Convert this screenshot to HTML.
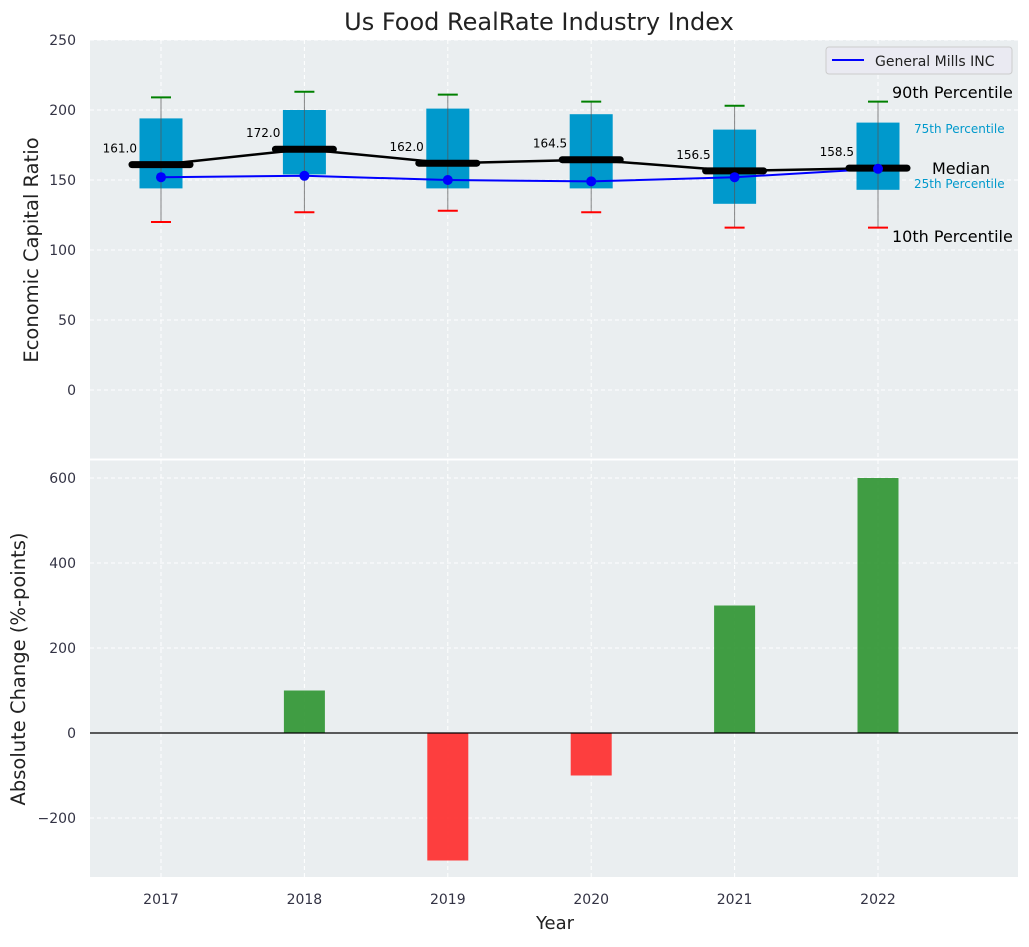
<!DOCTYPE html>
<html><head><meta charset="utf-8"><style>
body{margin:0;background:#fff;font-family:"Liberation Sans","DejaVu Sans",sans-serif}
svg text{font-family:"DejaVu Sans","Liberation Sans",sans-serif}
</style></head><body>
<svg id="chart" width="1029" height="942" viewBox="0 0 1029 942" xmlns="http://www.w3.org/2000/svg">
<rect width="1029" height="942" fill="#fff"/>
<text x="539" y="30" font-size="24" text-anchor="middle" fill="#222">Us Food RealRate Industry Index</text>
<rect x="90" y="40" width="928" height="419" fill="#eaeef0"/>
<rect x="90" y="460" width="928" height="417" fill="#eaeef0"/>
<g id="grid"></g><g id="marks"></g><g id="labels"></g>
<text transform="translate(38,250) rotate(-90)" font-size="19.5" text-anchor="middle" fill="#222">Economic Capital Ratio</text>
<text transform="translate(25,669) rotate(-90)" font-size="19.5" text-anchor="middle" fill="#222">Absolute Change (%-points)</text>
<text x="555" y="929" font-size="18" text-anchor="middle" fill="#222">Year</text>
<g>
<rect x="826" y="47" width="186" height="27" rx="3" fill="#eaeaf2" stroke="#ccc"/>
<line x1="832" y1="60" x2="864" y2="60" stroke="blue" stroke-width="2"/>
<text x="875" y="66" font-size="14" fill="#222">General Mills INC</text>
</g>
<text x="892" y="98" font-size="16" fill="#000">90th Percentile</text>
<text x="914" y="133" font-size="12" fill="#0099cc">75th Percentile</text>
<text x="932" y="174" font-size="16" fill="#000">Median</text>
<text x="914" y="188" font-size="12" fill="#0099cc">25th Percentile</text>
<text x="892" y="242" font-size="16" fill="#000">10th Percentile</text>
</svg>
<script>
const years=[2017,2018,2019,2020,2021,2022];
const p10=[120,127,128,127,116,116];
const q1=[144,154,144,144,133,143];
const median=[161,172,162,164.5,156.5,158.5];
const q3=[194,200,201,197,186,191];
const p90=[209,213,211,206,203,206];
const company=[152,153,150,149,152,158];
const change=[0,100,-300,-100,300,600];
const topTicks=[0,50,100,150,200,250];
const botTicks=[-200,0,200,400,600];

const NS='http://www.w3.org/2000/svg';
const X=v=>161+(v-2017)*143.4;
const YT=v=>390-v*1.4;
const YB=v=>733-v*0.425;
function mk(p,t,a){const e=document.createElementNS(NS,t);for(const k in a)e.setAttribute(k,a[k]);p.appendChild(e);return e;}
const grid=document.getElementById('grid'),marks=document.getElementById('marks'),labels=document.getElementById('labels');
topTicks.forEach(t=>{
 const l=mk(grid,'line',{x1:90,x2:1018,y1:YT(t),y2:YT(t),stroke:'#fff','stroke-dasharray':'4,3'});
 
 
 const tx=mk(labels,'text',{x:76,y:YT(t)+5,'font-size':14,'text-anchor':'end',fill:'#334'});tx.textContent=t;
 
 
});
botTicks.forEach(t=>{
 const l=mk(grid,'line',{x1:90,x2:1018,y1:YB(t),y2:YB(t),stroke:'#fff','stroke-dasharray':'4,3'});
 
 
 const tx=mk(labels,'text',{x:76,y:YB(t)+5,'font-size':14,'text-anchor':'end',fill:'#334'});tx.textContent=(t<0?'\u2212'+(-t):t);
 
 
});
years.forEach(y=>{
 [[40,459],[460,877]].forEach(r=>{mk(grid,'line',{x1:X(y),x2:X(y),y1:r[0],y2:r[1],stroke:'#fff','stroke-dasharray':'4,3'});});
 const tx=mk(labels,'text',{x:X(y),y:904,'font-size':14,'text-anchor':'middle',fill:'#334'});tx.textContent=y;
 
 
});
mk(grid,'line',{x1:90,x2:1018,y1:459.5,y2:459.5,stroke:'#fff','stroke-width':2});
years.forEach((y,i)=>{
 const x=X(y);
 const b=mk(marks,'rect',{x:x-21.5,y:YT(q3[i]),width:43,height:YT(q1[i])-YT(q3[i]),fill:'#0099cc'});
 
 
 mk(marks,'line',{x1:x,x2:x,y1:YT(p90[i]),y2:YT(p10[i]),stroke:'#555','stroke-width':1,opacity:0.7});
 const c1=mk(marks,'line',{x1:x-10,x2:x+10,y1:YT(p90[i]),y2:YT(p90[i]),stroke:'green','stroke-width':2});
 
 
 const c2=mk(marks,'line',{x1:x-10,x2:x+10,y1:YT(p10[i]),y2:YT(p10[i]),stroke:'red','stroke-width':2});
 
 
 const h=change[i];
 const bar=mk(marks,'rect',{x:x-20.5,y:Math.min(YB(h),YB(0)),width:41,height:Math.abs(YB(h)-YB(0)),fill:h>=0?'#2e9330':'#ff2a2a',opacity:0.9});
 
 
});
mk(marks,'line',{x1:90,x2:1018,y1:YB(0),y2:YB(0),stroke:'#000','stroke-width':1.2});
mk(marks,'polyline',{points:years.map((y,i)=>X(y)+','+YT(median[i])).join(' '),fill:'none',stroke:'#000','stroke-width':2.5});
mk(marks,'polyline',{points:years.map((y,i)=>X(y)+','+YT(company[i])).join(' '),fill:'none',stroke:'blue','stroke-width':2});
years.forEach((y,i)=>{
 const x=X(y);
 const m=mk(marks,'line',{x1:x-29,x2:x+29,y1:YT(median[i]),y2:YT(median[i]),stroke:'#000','stroke-width':7,'stroke-linecap':'round'});
 
 
 const d=mk(marks,'circle',{cx:x,cy:YT(company[i]),r:5,fill:'blue'});
 
 
 const t=mk(labels,'text',{x:x-24,y:YT(median[i])-12,'font-size':12,'text-anchor':'end',fill:'#000'});t.textContent=median[i].toFixed(1);
 
 
});
</script>
</body></html>
